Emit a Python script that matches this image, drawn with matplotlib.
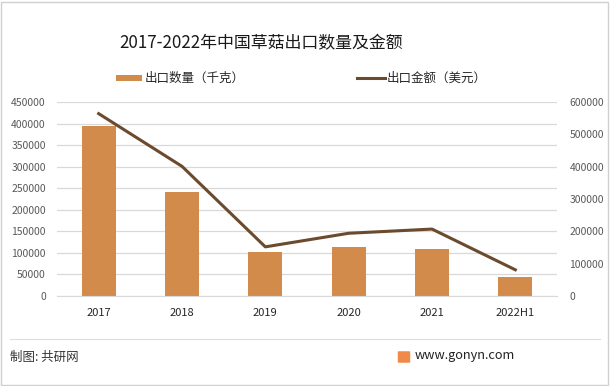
import matplotlib
matplotlib.use("Agg")
import matplotlib.pyplot as plt
from matplotlib.patches import Rectangle, FancyBboxPatch
from matplotlib.lines import Line2D
import numpy as np

plt.rcParams['font.family'] = ['Noto Sans CJK SC', 'DejaVu Sans']

years = ["2017", "2018", "2019", "2020", "2021", "2022H1"]
export_qty = [395000, 242000, 102000, 114000, 109000, 44000]      # 千克
export_value = [564000, 401000, 152000, 194000, 207000, 81000]    # 美元

left_ticks = [0, 50000, 100000, 150000, 200000, 250000, 300000, 350000, 400000, 450000]
right_ticks = [0, 100000, 200000, 300000, 400000, 500000, 600000]

bar_color = "#D38B4C"
line_color = "#6B4A2D"
grid_color = "#D9D9D9"
tick_color = "#595959"

fig = plt.figure(figsize=(6.10, 3.86), dpi=100)
fig.patch.set_facecolor("white")

ax = fig.add_axes([57/610, 1-296/386, 500/610, (296-102)/386])
x = np.arange(len(years))
ax.bar(x, export_qty, width=0.41, color=bar_color, zorder=2)
ax.set_xlim(-0.5, len(years)-0.5)
ax.set_ylim(0, 450000)
ax.set_yticks(left_ticks)
ax.set_yticklabels([str(v) for v in left_ticks])
ax.set_xticks(x)
ax.set_xticklabels(years)
ax.grid(axis='y', color=grid_color, linewidth=0.9, zorder=0)
ax.set_axisbelow(True)
for s in ['top', 'right', 'left']:
    ax.spines[s].set_visible(False)
ax.spines['bottom'].set_color(grid_color)
ax.tick_params(axis='y', length=0, pad=8, labelsize=7.5, labelcolor=tick_color)
ax.tick_params(axis='x', length=0, pad=9, labelsize=8, labelcolor="#262626")

ax2 = ax.twinx()
ax2.plot(x, export_value, color=line_color, linewidth=2.2, zorder=3)
ax2.set_ylim(0, 600000)
ax2.set_yticks(right_ticks)
ax2.set_yticklabels([str(v) for v in right_ticks])
for s in ['top', 'right', 'left', 'bottom']:
    ax2.spines[s].set_visible(False)
ax2.tick_params(axis='y', length=0, pad=9, labelsize=7.5, labelcolor=tick_color)

# Title
fig.text(261/610, 1-43/386, "2017-2022年中国草菇出口数量及金额", ha='center', va='center',
         fontsize=12.2, color="#1a1a1a")

# Legend
fig.patches.append(Rectangle((116/610, 1-81/386), 26/610, 6/386, transform=fig.transFigure,
                             facecolor=bar_color, edgecolor='none'))
fig.text(145/610, 1-78/386, "出口数量（千克）", ha='left', va='center', fontsize=9, color="#262626")
fig.lines.append(Line2D([357/610, 385/610], [1-78/386, 1-78/386], transform=fig.transFigure,
                        color=line_color, linewidth=2.2))
fig.text(387/610, 1-78/386, "出口金额（美元）", ha='left', va='center', fontsize=9, color="#262626")

# Footer
fig.lines.append(Line2D([10/610, 600/610], [1-339/386, 1-339/386], transform=fig.transFigure,
                        color="#DDDDDD", linewidth=0.8))
fig.text(10/610, 1-357/386, "制图: 共研网", ha='left', va='center', fontsize=9, color="#333333")
fig.patches.append(FancyBboxPatch((399/610, 1-362/386), 10/610, 10/386, transform=fig.transFigure,
                                  boxstyle="round,pad=0.002", facecolor="#F08A4B", edgecolor='none'))
fig.text(415/610, 1-356/386, "www.gonyn.com", ha='left', va='center', fontsize=9.2, color="#222222")

# Outer frame
fig.patches.append(Rectangle((1/610, 1/386), 607/610, 383/386, transform=fig.transFigure,
                             facecolor='none', edgecolor="#D0D0D0", linewidth=1))

fig.savefig("out.png", dpi=100, facecolor="white")
